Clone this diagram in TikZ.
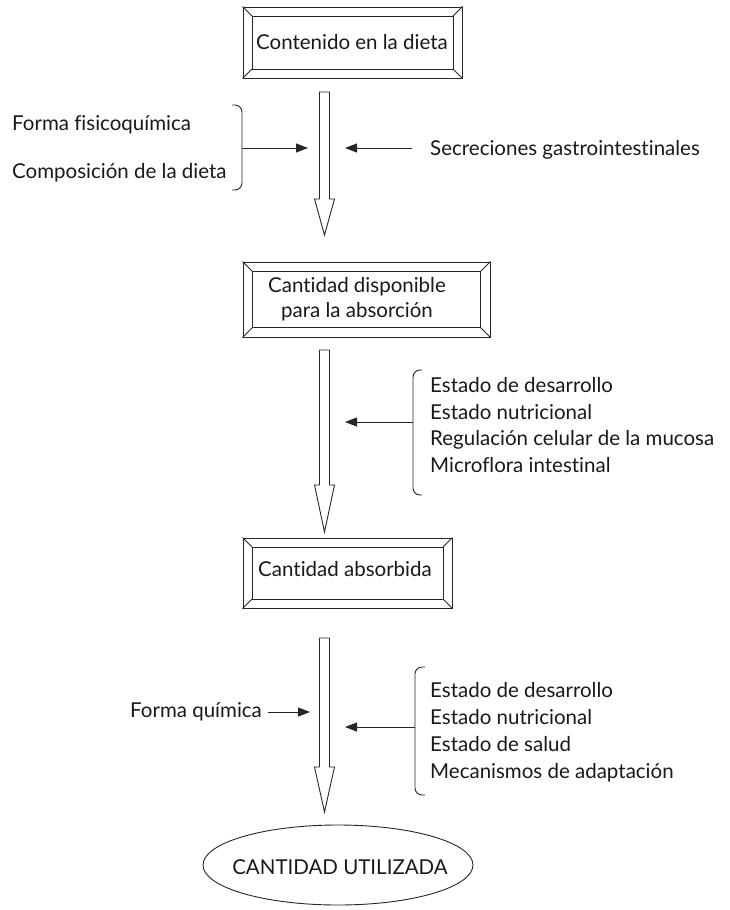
\documentclass[tikz,border=0pt]{standalone}
\usepackage{fontspec}
\setmainfont{Lato}[Ligatures={NoCommon}]
\usetikzlibrary{arrows.meta,shapes.geometric,calc}

% picture-frame box: inner rectangle inset by #2 and corner bevels
\newcommand\bevelframe[2]{%
  \draw[frame] ([shift={(#2,#2)}]#1.north west) rectangle ([shift={(-#2,-#2)}]#1.south east);
  \draw[frame] (#1.north west) -- ([shift={(#2,#2)}]#1.north west)
               (#1.north east) -- ([shift={(-#2,#2)}]#1.north east)
               (#1.south west) -- ([shift={(#2,-#2)}]#1.south west)
               (#1.south east) -- ([shift={(-#2,-#2)}]#1.south east);}

% hollow block arrow from coordinate #1 (top) to #2 (tip), head length #3
\newcommand\blockarrow[3]{%
  \draw[blk] ($(#1)+(-5,0)$) -- ($(#1)+(5,0)$) -- ($(#2)+(5,-#3)$) -- ($(#2)+(10,-#3)$)
    -- (#2) -- ($(#2)+(-10,-#3)$) -- ($(#2)+(-5,-#3)$) -- cycle;}

\begin{document}
\begin{tikzpicture}[x=1pt,y=-1pt,
  txt/.style={font=\fontsize{20.5}{25}\selectfont, inner sep=0pt, text=black!90},
  lbl/.style={txt, anchor=west, align=left},
  grp/.style={lbl, font=\fontsize{20.5}{26.8}\selectfont},
  frame/.style={draw=black!85, line width=1pt},
  boxnode/.style={frame, inner sep=0pt},
  blk/.style={draw=black!85, line width=0.9pt, fill=white, line join=miter},
  side/.style={draw=black!85, line width=0.9pt, -{Triangle[length=12pt,width=9pt]}},
  brace/.style={draw=black!85, line width=0.9pt, rounded corners=7pt},
  oval/.style={ellipse, draw=black!85, line width=0.9pt, inner sep=0pt}]

\useasboundingbox (0,0) rectangle (729,910);

% ---- boxes ----
\node[boxnode, minimum width=219pt, minimum height=71pt] (b1) at (352.5,42.5) {};
\bevelframe{b1}{9.5}
\node[txt] (b1t) at (352,42) {Contenido en la dieta};

\node[boxnode, minimum width=247pt, minimum height=75pt] (b2) at (366.5,299.5) {};
\bevelframe{b2}{10}
\node[txt, align=center] (b2t) at (357,299) {Cantidad disponible\\para la absorción};

\node[boxnode, minimum width=209pt, minimum height=70pt] (b3) at (347.5,573) {};
\bevelframe{b3}{9.5}
\node[txt] (b3t) at (345,569) {Cantidad absorbida};

\node[oval, minimum width=270pt, minimum height=80pt] (u) at (338,865) {};
\node[txt] (ut) at (340,867) {CANTIDAD UTILIZADA};

% ---- main flow arrows ----
\coordinate (a1s) at (324.5,92);  \coordinate (a1e) at (324.5,235);
\coordinate (a2s) at (324.5,350); \coordinate (a2e) at (324.5,532);
\coordinate (a3s) at (324.5,638); \coordinate (a3e) at (324.5,812);
\blockarrow{a1s}{a1e}{36}
\blockarrow{a2s}{a2e}{47}
\blockarrow{a3s}{a3e}{45}

% ---- first stage factors ----
\node[lbl] (f1) at (12,125) {Forma fisicoquímica};
\node[lbl] (f2) at (12,173) {Composición de la dieta};
\draw[brace] (232,105) -- (242,105) -- (242,190) -- (232,190);
\coordinate (br1) at (242,148);
\coordinate (in1) at (308,148);
\draw[side] (br1) -- (in1);

\node[lbl] (sec) at (430,150) {Secreciones gastrointestinales};
\coordinate (sec0) at (412,148);
\coordinate (in1r) at (345,148);
\draw[side] (sec0) -- (in1r);

% ---- second stage factors ----
\node[grp] (g2) at (430,425) {Estado de desarrollo\\Estado nutricional\\Regulación celular de la mucosa\\Microflora intestinal};
\draw[brace] (422,370) -- (413,370) -- (413,495) -- (422,495);
\coordinate (br2) at (413,422);
\coordinate (in2) at (345,422);
\draw[side] (br2) -- (in2);

% ---- third stage factors ----
\node[lbl] (fq) at (130,712) {Forma química};
\coordinate (in3) at (310,712);
\draw[side] ([xshift=6pt]fq.east) -- (in3);

\node[grp] (g3) at (430,732) {Estado de desarrollo\\Estado nutricional\\Estado de salud\\Mecanismos de adaptación};
\draw[brace] (425,667) -- (415,667) -- (415,795) -- (425,795);
\coordinate (br3) at (415,727);
\coordinate (in3r) at (345,727);
\draw[side] (br3) -- (in3r);

\end{tikzpicture}
\end{document}
